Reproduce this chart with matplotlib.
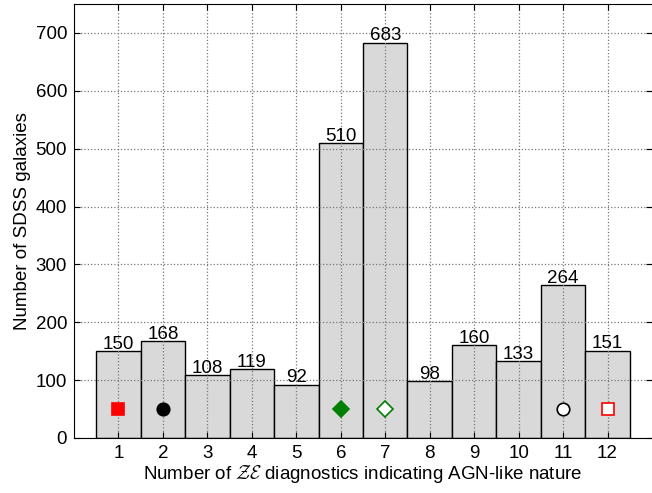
import matplotlib.pyplot as plt

# counts per number of diagnostics
n_diag = [1, 2, 3, 4, 5, 6, 7, 8, 9, 10, 11, 12]
counts = [150, 168, 108, 119, 92, 510, 683, 98, 160, 133, 264, 151]

# symbols used elsewhere for these classes
sym_x = [1, 2, 6, 7, 11, 12]
sym_y = [50, 50, 50, 50, 50, 50]
sym_marker = ['s', 'o', 'D', 'D', 'o', 's']
sym_face = ['red', 'black', 'green', 'white', 'white', 'white']
sym_edge = ['red', 'black', 'green', 'green', 'black', 'red']

plt.rcParams['font.family'] = ['Liberation Sans', 'DejaVu Sans']
plt.rcParams['mathtext.fontset'] = 'cm'
fs = 13.5

fig = plt.figure(figsize=(6.52, 4.93), dpi=100)
ax = fig.add_axes([0.1135, 0.1116, 0.8865, 0.8803])

bars = ax.bar(n_diag, counts, width=1.0, color='#d9d9d9', edgecolor='black', linewidth=1.0)
for b, c in zip(bars, counts):
    ax.text(b.get_x() + b.get_width() / 2, c - 3, str(c), ha='center', va='bottom', fontsize=fs)

for x, y, m, fc, ec in zip(sym_x, sym_y, sym_marker, sym_face, sym_edge):
    ms = 8.5 if m == 'D' else 9
    ax.plot(x, y, marker=m, markersize=ms, markerfacecolor=fc, markeredgecolor=ec,
            markeredgewidth=1.2, linestyle='none', zorder=5)

ax.set_xlim(0, 13)
ax.set_ylim(0, 750)
ax.set_xticks(n_diag)
ax.set_yticks(range(0, 701, 100))
ax.tick_params(direction='in', top=True, right=True, labelsize=fs, length=4, pad=5)
ax.grid(True, linestyle=':', color='#777777', linewidth=0.9)
ax.spines['right'].set_visible(False)

ax.set_xlabel(r'Number of $\mathcal{ZE}$ diagnostics indicating AGN-like nature', fontsize=fs, labelpad=1)
ax.set_ylabel('Number of SDSS galaxies', fontsize=fs, labelpad=3)

fig.savefig('out.png', dpi=100)
